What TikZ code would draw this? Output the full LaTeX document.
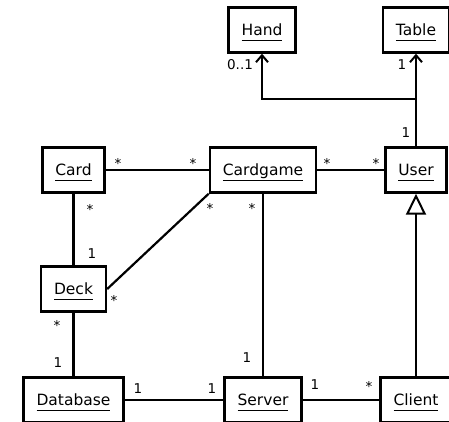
\documentclass[tikz,border=0pt]{standalone}
\usepackage{fontspec}
\setmainfont{DejaVu Sans}
\usetikzlibrary{arrows.meta}
\newcommand{\namefont}{\fontsize{15.5}{18}\selectfont}
\newcommand{\multfont}{\fontsize{13.5}{16}\selectfont}
\newcommand{\uname}[1]{\underline{#1\vphantom{y}}}

\begin{document}
\begin{tikzpicture}[
        x=1pt, y=-1pt,
        class/.style={draw, line width=2.4pt, inner xsep=13pt, minimum height=45pt,
            text height=11.3pt, text depth=0pt, font=\namefont},
        mult/.style={inner sep=0pt, text height=10pt, text depth=0pt, font=\multfont},
        assoc/.style={line width=2.2pt},
        nav/.style={line width=2.2pt, -{Straight Barb[length=7pt, width=12pt, line width=2pt]}},
        inherit/.style={line width=2.2pt, -{Triangle[open, fill=white, length=21pt, width=20pt, line width=2pt]}}
    ]
        \useasboundingbox (0,0) rectangle (449,421);
        \clip (0,0) rectangle (449,421);
        \node[class] (Hand)     at (262, 30)    {\uname{Hand}};
        \node[class] (Table)    at (416, 30)    {\uname{Table}};
        \node[class] (Card)     at (73.5, 170)  {\uname{Card}};
        \node[class] (Cardgame) at (263, 170)   {\uname{Cardgame}};
        \node[class] (User)     at (416, 170)   {\uname{User}};
        \node[class] (Deck)     at (73.5, 289)  {\uname{Deck}};
        \node[class] (Database) at (73.5, 400)  {\uname{Database}};
        \node[class] (Server)   at (263, 400)   {\uname{Server}};
        \node[class] (Client)   at (416, 400)   {\uname{Client}};
        \coordinate (split) at (416, 99);
        \draw[nav] (User) -- (Table);
        \draw[nav] (split) -| (Hand);
        \draw[assoc] (Card) -- (Cardgame) -- (User);
        \draw[assoc] (Card) -- (Deck) -- (Database) -- (Server) -- (Client);
        \draw[assoc] (Cardgame.south west) -- (Deck.east);
        \draw[assoc] (Cardgame) -- (Server);
        \draw[inherit] (Client) -- (User);
        \node[mult] (mHand)  at (240, 64)  {0..1};
        \node[mult] (mTable) at (402, 64)  {1};
        \node[mult] (mUserT) at (406, 132) {1};
        \node[mult] (mCardA) at (118, 163) {*};
        \node[mult] (mGameA) at (193, 163) {*};
        \node[mult] (mGameB) at (327, 163) {*};
        \node[mult] (mUserB) at (376, 163) {*};
        \node[mult] (mCardB) at (90, 209)  {*};
        \node[mult] (mDeckA) at (92, 253)  {1};
        \node[mult] (mGameC) at (210, 208) {*};
        \node[mult] (mDeckB) at (114, 300) {*};
        \node[mult] (mGameD) at (252, 208) {*};
        \node[mult] (mServA) at (247, 357) {1};
        \node[mult] (mDeckC) at (57, 325)  {*};
        \node[mult] (mBaseA) at (58, 362)  {1};
        \node[mult] (mBaseB) at (138, 388) {1};
        \node[mult] (mServB) at (212, 388) {1};
        \node[mult] (mServC) at (315, 384) {1};
        \node[mult] (mClnt)  at (369, 386) {*};
    \end{tikzpicture}
\end{document}
